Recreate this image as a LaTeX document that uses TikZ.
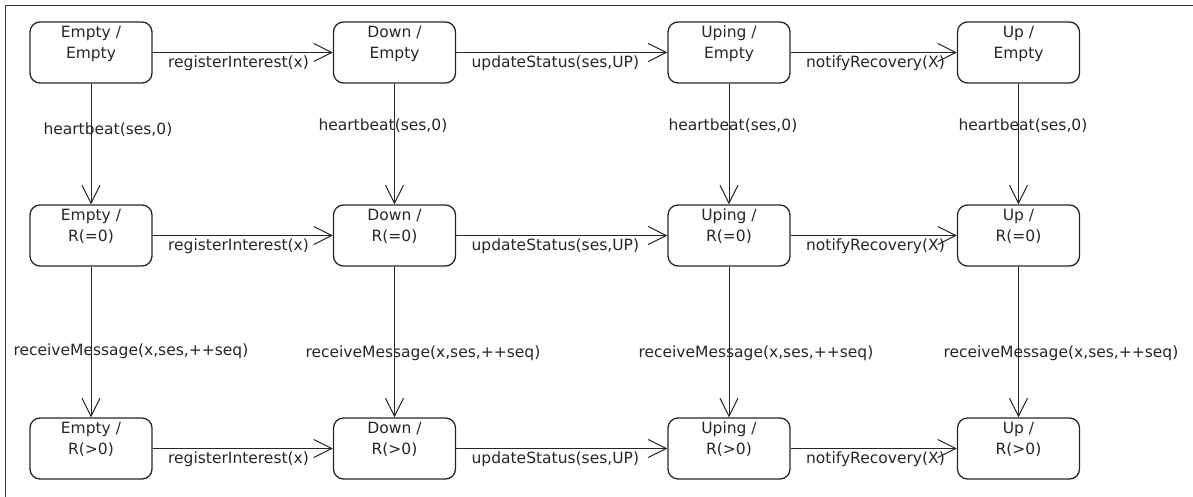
\documentclass[tikz,border=0pt]{standalone}
\usepackage{fontspec}
\setmainfont{DejaVu Sans}
\usetikzlibrary{arrows.meta}
\begin{document}
\begin{tikzpicture}[x=1pt, y=-1pt,
  font=\fontsize{15.5}{21}\selectfont,
  state/.style={draw=black!85, line width=1.3pt, rounded corners=10pt,
    minimum width=122pt, minimum height=61pt, inner sep=0pt},
  stext/.style={anchor=north, align=center, inner sep=0pt, yshift=-4.5pt, text=black!85},
  tr/.style={draw=black!85, line width=1pt,
    -{Straight Barb[length=18pt,width=18pt]}},
  hl/.style={pos=0, anchor=west, xshift=15pt, yshift=-11pt, inner sep=0pt, text=black!85},
  vl/.style={anchor=west, inner sep=0pt, text=black!85},
  frame/.style={draw=black!80, line width=1pt}]
\useasboundingbox (0,0) rectangle (1193,497);
% frame (top and left edges)
\coordinate (fa) at (1193,6);
\coordinate (fb) at (5,6);
\coordinate (fc) at (5,497);
\draw[frame] (fa) -- (fb) -- (fc);

% states
\foreach \r/\y/\lab in {1/52.5/Empty, 2/235.5/R(=0), 3/448.5/R(>0)}{
  \foreach \c/\x/\top in {1/91/Empty, 2/394.5/Down, 3/729/Uping, 4/1018.5/Up}{
    \node[state] (s\r\c) at (\x,\y) {};
    \node[stext] (t\r\c) at (s\r\c.north) {\top\ /\\\lab};
  }
}

% horizontal transitions
\foreach \r in {1,2,3}{
  \draw[tr] (s\r1) -- node[hl] {registerInterest(x)} (s\r2);
  \draw[tr] (s\r2) -- node[hl] {updateStatus(ses,UP)} (s\r3);
  \draw[tr] (s\r3) -- node[hl] {notifyRecovery(X)} (s\r4);
}

% vertical transitions: heartbeat
\draw[tr] (s11) -- node[vl, pos=0.385, xshift=-48pt] {heartbeat(ses,0)} (s21);
\draw[tr] (s12) -- node[vl, pos=0.344, xshift=-76.5pt] {heartbeat(ses,0)} (s22);
\draw[tr] (s13) -- node[vl, pos=0.344, xshift=-61pt] {heartbeat(ses,0)} (s23);
\draw[tr] (s14) -- node[vl, pos=0.344, xshift=-60.5pt] {heartbeat(ses,0)} (s24);

% vertical transitions: receiveMessage
\draw[tr] (s21) -- node[vl, pos=0.56, xshift=-78pt] {receiveMessage(x,ses,++seq)} (s31);
\draw[tr] (s22) -- node[vl, pos=0.572, xshift=-89.5pt] {receiveMessage(x,ses,++seq)} (s32);
\draw[tr] (s23) -- node[vl, pos=0.572, xshift=-91pt] {receiveMessage(x,ses,++seq)} (s33);
\draw[tr] (s24) -- node[vl, pos=0.572, xshift=-75.5pt] {receiveMessage(x,ses,++seq)} (s34);
\end{tikzpicture}
\end{document}
